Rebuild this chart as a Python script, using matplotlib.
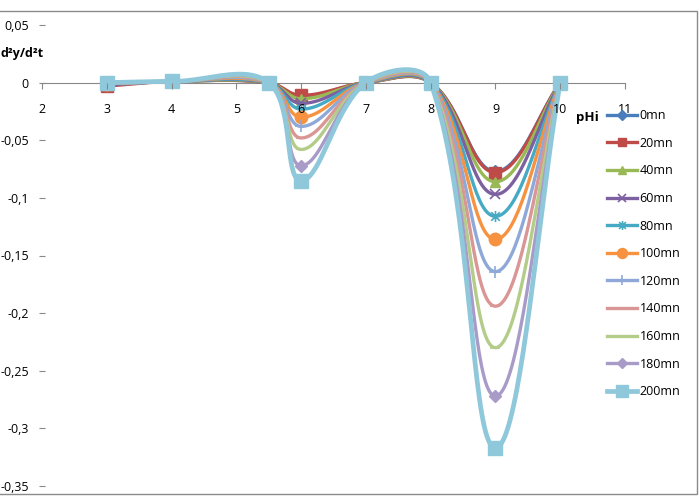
import numpy as np
import matplotlib
matplotlib.use("Agg")
import matplotlib.pyplot as plt
from matplotlib.lines import Line2D
from matplotlib.patches import Rectangle
from matplotlib.path import Path
from matplotlib.ticker import FuncFormatter

plt.rcParams["font.family"] = ["Open Sans", "DejaVu Sans"]

# pHi points
ph = [3, 4, 5.5, 6, 7, 8, 9, 10]
labels = ["0mn", "20mn", "40mn", "60mn", "80mn", "100mn",
          "120mn", "140mn", "160mn", "180mn", "200mn"]

v0 = [-0.002, 0.001, 0, -0.012, 0, 0, -0.077, 0]
v20 = [-0.003, 0.001, 0, -0.011, 0, 0, -0.078, 0]
v40 = [-0.002, 0.001, 0, -0.014, 0, 0, -0.086, 0]
v60 = [-0.002, 0.001, 0, -0.018, 0, 0, -0.097, 0]
v80 = [-0.001, 0.001, 0, -0.023, 0, 0, -0.116, 0]
v100 = [-0.001, 0.001, 0, -0.030, 0, 0, -0.136, 0]
v120 = [-0.001, 0.001, 0, -0.038, 0, 0, -0.164, 0]
v140 = [-0.001, 0.001, 0, -0.048, 0, 0, -0.194, 0]
v160 = [0, 0.001, 0, -0.058, 0, 0, -0.230, 0]
v180 = [0, 0.001, 0, -0.072, 0, 0, -0.272, 0]
v200 = [0, 0.001, 0, -0.085, 0, 0, -0.317, 0]
series = [v0, v20, v40, v60, v80, v100, v120, v140, v160, v180, v200]

colors = ["#4A7EBB", "#BE4B48", "#98B954", "#7D60A0", "#46AAC5", "#F69240",
          "#8EA9D8", "#D99694", "#B3CC8A", "#A99BC8", "#8FC8DA"]

star = Path([(-1, -1), (1, 1), (-1, 1), (1, -1), (0, -1.3), (0, 1.3)],
            [Path.MOVETO, Path.LINETO, Path.MOVETO, Path.LINETO, Path.MOVETO, Path.LINETO])
markers = ["D", "s", "^", "x", star, "o", "+", "_", "_", "D", "s"]
msizes = [6, 8, 7, 7, 8, 9, 9, 7, 7, 6, 10]


def smooth(xs, ys, sx, sy, n=40):
    # excel-like smoothed line, computed in pixel space
    P = np.column_stack([np.array(xs, float) * sx, np.array(ys, float) * sy])
    out = []
    for i in range(len(P) - 1):
        p1, p2 = P[i], P[i + 1]
        p0 = P[i - 1] if i > 0 else p1
        p3 = P[i + 2] if i + 2 < len(P) else p2
        d0 = np.hypot(*(p1 - p0))
        d1 = np.hypot(*(p2 - p1))
        d2 = np.hypot(*(p3 - p2))
        k = 2.6
        c1 = p1 + (p2 - p0) * d1 / (d0 + d1) / k if d0 > 0 else p1 + (p2 - p1) / 3
        c2 = p2 - (p3 - p1) * d1 / (d1 + d2) / k if d2 > 0 else p2 - (p2 - p1) / 3
        t = np.linspace(0, 1, n)[:, None]
        seg = (1 - t) ** 3 * p1 + 3 * (1 - t) ** 2 * t * c1 + 3 * (1 - t) * t ** 2 * c2 + t ** 3 * p2
        out.append(seg if i == 0 else seg[1:])
    pts = np.vstack(out)
    return pts[:, 0] / sx, pts[:, 1] / sy


def fmt(v, pos):
    v = round(v, 2) + 0.0
    if abs(v) < 1e-9:
        return "0"
    return ("%g" % v).replace(".", ",")


fig = plt.figure(figsize=(6.99, 5.0), dpi=100)
ax = fig.add_axes([42 / 699, 1 - 486 / 500, (625 - 42) / 699, (486 - 25) / 500])
ax.set_xlim(2, 11)
ax.set_ylim(-0.35, 0.05)
ax.set_axisbelow(False)

sx = (625 - 42) / 9.0
sy = (486 - 25) / 0.4

handles = []
for vals, lab, c, m, ms in zip(series, labels, colors, markers, msizes):
    lw = 3.4 if lab == "200mn" else 2.4
    xs, ys = smooth(ph, vals, sx, sy)
    ax.plot(xs, ys, color=c, lw=lw, solid_capstyle="round")
    mew = 1.2 if m in ("x", "+", "_") or m is star else 1
    ax.plot(ph, vals, ls="none", marker=m, ms=ms, color=c, mec=c, mew=mew)
    handles.append(Line2D([], [], color=c, lw=lw, marker=m, ms=ms * 0.8, mec=c, mew=mew))

for s in ["top", "right", "left"]:
    ax.spines[s].set_visible(False)
ax.spines["bottom"].set_position(("data", 0))
ax.spines["bottom"].set_color("#888888")
ax.spines["bottom"].set_zorder(0)

ax.set_xticks(range(2, 12))
ax.set_yticks(np.arange(-0.35, 0.051, 0.05))
ax.yaxis.set_major_formatter(FuncFormatter(fmt))
ax.tick_params(axis="x", direction="out", length=4, color="#888888", pad=11, labelsize=9)
ax.tick_params(axis="y", direction="inout", length=5, color="#888888", pad=7, labelsize=9)

fig.text(0.001, 1 - 54 / 500, "d²y/d²t", fontsize=9, fontweight="bold", ha="left", va="center")
fig.text(576 / 699, 1 - 117 / 500, "pHi", fontsize=9.5, fontweight="bold", ha="left", va="center")

fig.legend(handles, labels, loc="upper left", bbox_to_anchor=(602 / 699, 1 - 104 / 500),
           frameon=False, fontsize=9, handlelength=2.4, handletextpad=0.2,
           labelspacing=1.17, borderaxespad=0)

fig.add_artist(Rectangle((-0.01, 1 - 494 / 500), 697 / 699 + 0.01, (494 - 11) / 500,
                         fill=False, edgecolor="#8a8a8a", lw=1, transform=fig.transFigure))

fig.savefig("out.png", dpi=100)
